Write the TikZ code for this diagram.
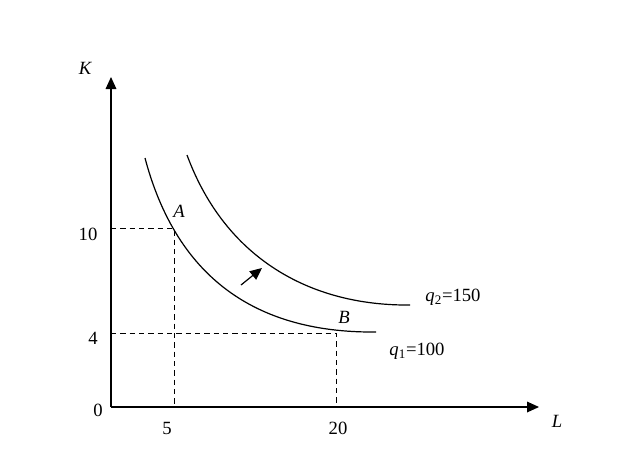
\documentclass[tikz,border=0pt]{standalone}
\usepackage{fontspec}
\setmainfont{Liberation Serif}
\usetikzlibrary{arrows.meta}
\tikzset{
  lbl/.style={inner sep=0pt, font=\fontsize{14}{16}\selectfont},
  guide/.style={dashed, dash pattern=on 4pt off 3pt, line width=0.7pt},
  isoq/.style={line width=0.9pt}
}
\begin{document}
\begin{tikzpicture}[x=0.75pt, y=-0.75pt]
            \useasboundingbox (0, 0) rectangle (627, 457);
            \node (origin) at (111, 407) [inner sep=0pt] {};
            \coordinate (ktip) at (111, 77);
            \coordinate (ltip) at (539, 407);
            \node (A) at (174, 228) [inner sep=0pt] {};
            \node (B) at (336, 333) [inner sep=0pt] {};
            \node (ka) at (111, 228) [inner sep=0pt] {};
            \node (la) at (174, 407) [inner sep=0pt] {};
            \node (kb) at (111, 333) [inner sep=0pt] {};
            \node (lb) at (336, 407) [inner sep=0pt] {};
            \node[lbl] (kname) at (85, 68) {\itshape K};
            \node[lbl] (lname) at (557, 421) {\itshape L};
            \node[lbl] (zero) at (98, 410) {0};
            \node[lbl] (ten) at (88, 234) {10};
            \node[lbl] (four) at (93, 338) {4};
            \node[lbl] (five) at (167, 428) {5};
            \node[lbl] (twenty) at (338, 428) {20};
            \node[lbl] (alabel) at (179, 211) {\itshape A};
            \node[lbl] (blabel) at (344, 317) {\itshape B};
            \node[lbl] (q2label) at (453, 297) {\textit{q}\textsubscript{2}=150};
            \node[lbl] (q1label) at (417, 351) {\textit{q}\textsubscript{1}=100};
            \draw[-{Triangle[length=9pt, width=8pt]}, line width=0.9pt] (origin.center) -- (ktip);
            \draw[-{Triangle[length=9pt, width=8pt]}, line width=0.9pt] (origin.center) -- (ltip);
            \draw[guide] (ka.center) -- (A.center) -- (la.center);
            \draw[guide] (kb.center) -- (B.center) -- (lb.center);
            \draw[isoq] (145, 158) .. controls (180, 290) and (270, 333) .. (376, 332);
            \draw[isoq] (187, 155) .. controls (225, 258) and (310, 306) .. (410, 305);
            \coordinate (shiftfrom) at (241, 285);
            \coordinate (shiftto) at (262, 268);
            \draw[-{Triangle[length=9pt, width=8pt]}, line width=0.9pt] (shiftfrom) -- (shiftto);
        \end{tikzpicture}
\end{document}
